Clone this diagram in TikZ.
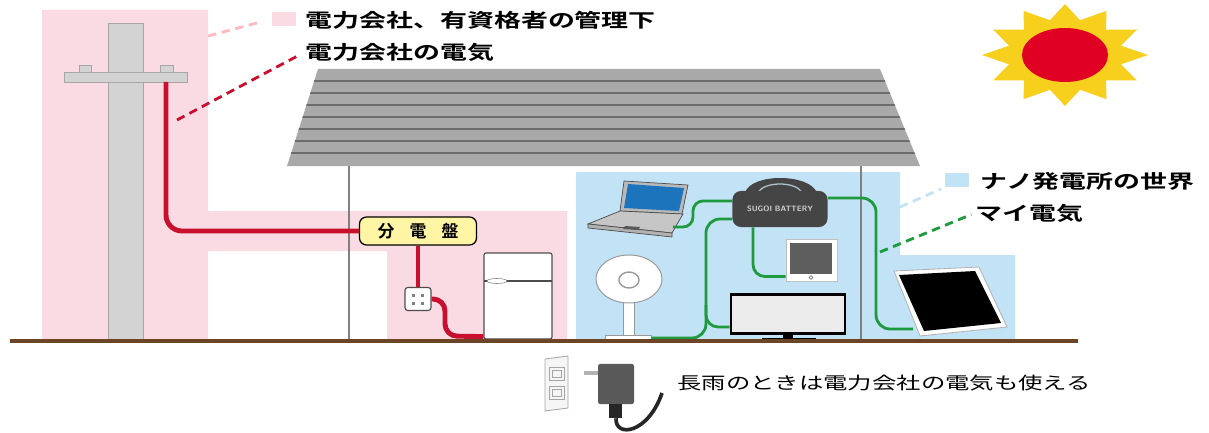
\documentclass[tikz,border=0pt]{standalone}
\usepackage{fontspec}
\newfontfamily\jpfont{Noto Sans CJK JP}[BoldFont={Noto Sans CJK JP Bold}]
\usetikzlibrary{shapes.geometric}
\definecolor{zonepink}{HTML}{FADBE3}
\definecolor{zoneblue}{HTML}{C2E2F6}
\definecolor{wirered}{HTML}{C8102E}
\definecolor{wiregreen}{HTML}{1E9A3E}
\definecolor{boardyellow}{HTML}{FFF5A5}
\definecolor{roofgray}{HTML}{A9A9A9}
\definecolor{polegray}{HTML}{D3D3D3}
\definecolor{groundbrown}{HTML}{6B4526}
\definecolor{sunyellow}{HTML}{F7CF1D}
\definecolor{sunred}{HTML}{DF0024}
\definecolor{battgray}{HTML}{454545}
\definecolor{screenblue}{HTML}{1C74BD}
\definecolor{tabletgray}{HTML}{5E5E5E}
\tikzstyle{redwire} = [line width=3.5pt, draw=wirered]
\tikzstyle{greenwire} = [line width=2pt, draw=wiregreen]
\tikzstyle{leader} = [line width=2pt, dash pattern=on 6pt off 4pt]
\tikzstyle{wall} = [line width=1.4pt, draw=gray]
\tikzstyle{board} = [rectangle, rounded corners=5pt, draw=black, line width=0.9pt, fill=boardyellow, minimum width=2.925cm, minimum height=0.7cm, text centered, font=\jpfont\bfseries\fontsize{12}{14}\selectfont]
\tikzstyle{appliance} = [rectangle, rounded corners=1.5pt, draw=black!70, line width=0.8pt, fill=white, inner sep=0pt]
\tikzstyle{swatch} = [rectangle, minimum width=0.6cm, minimum height=0.35cm, inner sep=0pt]
\tikzstyle{legend} = [anchor=west, inner sep=0pt, font=\jpfont\bfseries\fontsize{13.5}{15}\selectfont, xscale=1.42, transform shape]
\tikzstyle{note} = [anchor=west, inner sep=0pt, font=\jpfont\fontsize{12.2}{14}\selectfont, xscale=1.42, transform shape]

\begin{document}
\begin{tikzpicture}[x=0.025cm, y=-0.025cm]
    \useasboundingbox (0,0) rectangle (1209,433);

    \fill [zonepink] (42,10) -- (208,10) -- (208,211) -- (567,211) -- (567,340) -- (387,340) -- (387,251) -- (208,251) -- (208,340) -- (42,340) -- cycle;
    \fill [zoneblue] (576,172) -- (900,172) -- (900,255) -- (1015,255) -- (1015,340) -- (576,340) -- cycle;

    \fill [sunyellow] plot [samples at={0,...,23}, variable=\k] ({1065+ifthenelse(mod(\k,2)==0,83,58)*cos(15*\k)}, {55+ifthenelse(mod(\k,2)==0,51,36)*sin(15*\k)}) -- cycle;
    \fill [sunred] (1065,55) ellipse [x radius=43, y radius=27];

    \filldraw [fill=polegray, draw=gray!70] (108,23) rectangle (143,341);
    \filldraw [fill=polegray, draw=gray!70] (64,72) rectangle (187,82);
    \filldraw [fill=polegray, draw=gray!70] (79,65) rectangle (91,72);
    \filldraw [fill=polegray, draw=gray!70] (160,65) rectangle (173,72);
    \coordinate (insulator) at (166,82);

    \draw [wall] (349,166) -- (349,341);
    \draw [wall] (861,166) -- (861,341);
    \fill [roofgray] (318,69) -- (880,69) -- (920,166) -- (287,166) -- cycle;
    \begin{scope}
        \clip (318,69) -- (880,69) -- (920,166) -- (287,166) -- cycle;
        \foreach \y in {81,93,...,153}
            \draw [line width=1.4pt, gray!85!black] (280,\y) -- (930,\y);
    \end{scope}

    \node [board] at (418,231) (board) {分\hspace{0.9em}電\hspace{0.9em}盤};
    \node [appliance, rounded corners=2pt, minimum width=0.65cm, minimum height=0.575cm] at (418,299) (outlet) {};
    \foreach \dx in {-5,4}
        \foreach \dy in {-4,4}
            \fill [gray] (418+\dx-1.5,299+\dy-1.5) rectangle ++(3,3);
    \node [appliance, minimum width=1.7cm, minimum height=2.15cm] at (518,296) (fridge) {};
    \draw [black!70, line width=0.8pt] (484,281) -- (552,281);
    \filldraw [fill=white, draw=gray] (497,281) ellipse [x radius=10, y radius=2.5];

    \draw [redwire, rounded corners=0.4cm] (insulator) |- (board.west);
    \draw [redwire] (board) -- (outlet);
    \draw [redwire, rounded corners=0.3cm] (outlet.east) -- (445,299) -- (445,336) -- ([yshift=0.075cm]fridge.south west);

    \filldraw [fill=gray!55, draw=gray!60!black, line width=0.5pt] (624,181) -- (688,185) -- (682,214) -- (620,211) -- cycle;
    \fill [screenblue] (628,184) -- (684,188) -- (679,211) -- (624,208) -- cycle;
    \filldraw [fill=gray!45, draw=gray!60!black, line width=0.5pt] (620,211) -- (683,214) -- (672,233) -- (588,224) -- cycle;
    \filldraw [fill=gray!60, draw=gray!60!black, line width=0.5pt] (588,224) -- (672,233) -- (672,237) -- (588,228) -- cycle;
    \fill [gray!70!black] (625,226) -- (640,227) -- (638,230) -- (623,229) -- cycle;
    \coordinate (laptopjack) at (673,227);

    \fill [battgray] (745,193) .. controls (750,173) and (810,173) .. (817,193) -- cycle;
    \draw [zoneblue!70!gray, line width=0.9pt] (758,193) .. controls (763,181) and (797,181) .. (802,193);
    \node [rectangle, rounded corners=6pt, fill=battgray, minimum width=2.375cm, minimum height=0.9cm, text=gray!35, font=\sffamily\bfseries\fontsize{5.5}{6}\selectfont] at (780,209) (battery) {SUGOI BATTERY};

    \filldraw [fill=white, draw=gray!50, line width=0.6pt] (786,239) rectangle (837,281);
    \node [rectangle, fill=tabletgray, inner sep=0pt, minimum width=1.05cm, minimum height=0.75cm] at (811,258.5) (tablet) {};
    \draw [gray, line width=0.5pt] (811,277.5) circle [radius=1.8];

    \node [rectangle, fill=gray!15, draw=black, line width=2pt, minimum width=2.85cm, minimum height=0.98cm] at (788,314) (tv) {};
    \fill [black] (783,335) rectangle (793,339);
    \fill [black] (762,338) rectangle (816,341);

    \filldraw [fill=white, draw=gray!80, line width=0.7pt] (623,302) rectangle (634,336);
    \filldraw [fill=white, draw=gray!80, line width=0.7pt] (629,279) ellipse [x radius=33, y radius=24];
    \draw [gray!80, line width=1pt] (629,280) ellipse [x radius=10, y radius=8];
    \node [rectangle, fill=white, draw=gray!80, line width=0.6pt, minimum width=1.15cm, minimum height=0.12cm, inner sep=0pt] at (628,338) (fanbase) {};

    \filldraw [fill=white, draw=gray!60, line width=0.6pt] (894,271) -- (979,267) -- (1007,327) -- (920,336) -- cycle;
    \fill [black] (899,275) -- (975,271) -- (1001,323) -- (924,331) -- cycle;
    \coordinate (panelplug) at (913,329);

    \draw [greenwire, rounded corners=0.25cm] (laptopjack) -- (693,227) -- (693,201) -- ([yshift=0.2cm]battery.west);
    \draw [greenwire, rounded corners=0.35cm] ([yshift=-0.25cm]battery.west) -- (706,219) -- (706,338) -- (fanbase.east);
    \coordinate (split) at (706,305);
    \draw [greenwire, rounded corners=0.3cm] (split) -- (706,327) -- ([yshift=-0.325cm]tv.west);
    \draw [greenwire, rounded corners=0.3cm] ([xshift=-0.675cm]battery.south) |- ([xshift=-0.1cm, yshift=-0.45cm]tablet.west);
    \draw [greenwire, rounded corners=0.35cm] ([yshift=0.275cm]battery.east) -- (876,198) -- (876,329) -- (panelplug);

    \draw [groundbrown, line width=2.2pt] (10,341) -- (1078,341);

    \filldraw [fill=gray!8, draw=gray!70, line width=0.6pt] (545,359) -- (568,356) -- (568,408) -- (545,411) -- cycle;
    \draw [gray!70, line width=0.6pt] (549,367) rectangle (564,380);
    \draw [gray!70, line width=0.6pt] (549,386) rectangle (564,399);
    \foreach \sy in {370,389}
        \draw [gray!70, line width=0.5pt] (552,\sy) rectangle (561,\sy+7);
    \fill [gray!60] (584,371) rectangle (598,375);
    \node [rectangle, rounded corners=1.5pt, fill=gray!70!black, minimum width=0.9cm, minimum height=1cm, inner sep=0pt] at (616,384) (adapter) {};
    \fill [gray!30!black] (609,404) rectangle (622,418);
    \coordinate (cordend) at (662,393);
    \draw [gray!30!black, line width=2.6pt] ([yshift=-0.35cm]adapter.south) .. controls (615,438) and (648,434) .. (cordend);

    \node [swatch, fill=zonepink] at (284,19) (pinkkey) {};
    \node [legend] at (305,20) (mgmt) {電力会社、有資格者の管理下};
    \node [legend] at (305,52) (gridpower) {電力会社の電気};
    \node [swatch, fill=zoneblue] at (957,180) (bluekey) {};
    \node [legend] at (980,181) (nanoworld) {ナノ発電所の世界};
    \node [legend] at (975,213) (mypower) {マイ電気};
    \node [note] at (677,383) (rainy) {長雨のときは電力会社の電気も使える};

    \coordinate (pinktap) at (208,36);
    \coordinate (poletap) at (177,120);
    \coordinate (bluetap) at (900,207);
    \coordinate (greentap) at (880,252);
    \draw [leader, zonepink!85!red, shorten >=0.25cm] (pinktap) -- (pinkkey.west);
    \draw [leader, wirered, shorten >=0.15cm] (poletap) -- (gridpower.west);
    \draw [leader, zoneblue, shorten >=0.1cm] (bluetap) -- (bluekey.south west);
    \draw [leader, wiregreen, shorten >=0.1cm] (greentap) -- (mypower.west);
\end{tikzpicture}
\end{document}
